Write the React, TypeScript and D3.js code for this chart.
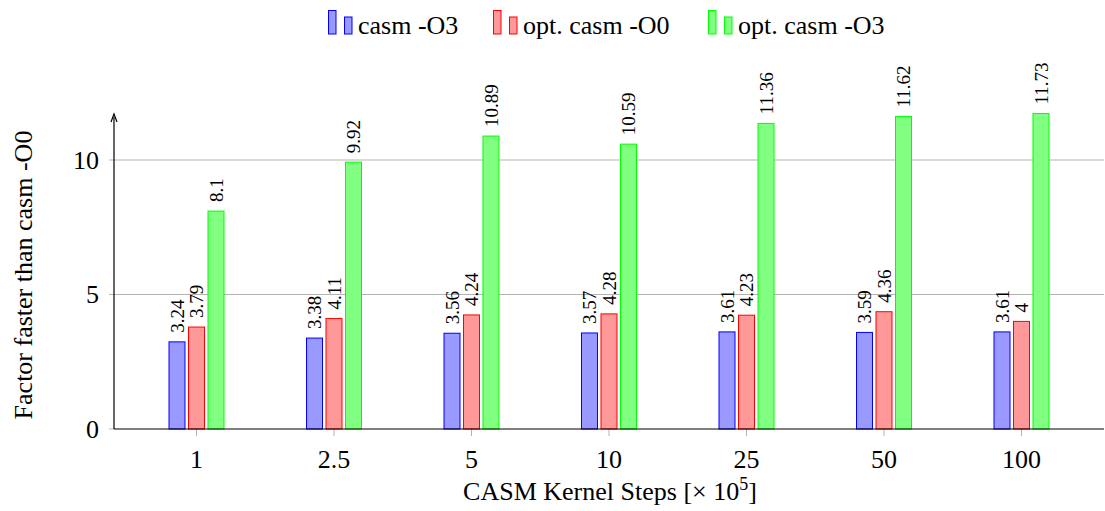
import { useEffect, useRef } from 'react';
import * as d3 from 'd3';

const categories = ['1', '2.5', '5', '10', '25', '50', '100'];
const seriesNames = ['casm -O3', 'opt. casm -O0', 'opt. casm -O3'];
const casmO3 = [3.24, 3.38, 3.56, 3.57, 3.61, 3.59, 3.61];
const optCasmO0 = [3.79, 4.11, 4.24, 4.28, 4.23, 4.36, 4];
const optCasmO3 = [8.1, 9.92, 10.89, 10.59, 11.36, 11.62, 11.73];
const yTicks = [0, 5, 10];

const fills = ['#9999ff', '#ff9999', '#80ff80'];
const strokes = ['#0000ff', '#ff0000', '#00ff00'];

export default function App() {
  const svgRef = useRef(null);

  useEffect(() => {
    if (!svgRef.current) return;
    const svg = d3.select(svgRef.current);
    svg.selectAll('*').remove();

    const font = '"Liberation Serif", "Times New Roman", serif';
    const left = 114;
    const right = 1104;
    const bottom = 429;

    const x = d3.scaleLinear().domain([-0.6, categories.length - 0.4]).range([left, right]);
    const y = d3.scaleLinear().domain([0, 10]).range([bottom, 160]);
    const series = [casmO3, optCasmO0, optCasmO3];
    const barW = 16;
    const offset = 19.5;

    // gridlines
    svg.append('g')
      .selectAll('line')
      .data(yTicks.filter(t => t > 0))
      .enter()
      .append('line')
      .attr('x1', left)
      .attr('x2', right)
      .attr('y1', d => y(d))
      .attr('y2', d => y(d))
      .attr('stroke', '#b3b3b3')
      .attr('stroke-width', 1);

    // y tick marks and labels
    yTicks.forEach(t => {
      svg.append('line')
        .attr('x1', left - 5).attr('x2', left)
        .attr('y1', y(t)).attr('y2', y(t))
        .attr('stroke', '#b3b3b3');
      svg.append('text')
        .attr('x', left - 15)
        .attr('y', y(t))
        .attr('dy', '0.33em')
        .attr('text-anchor', 'end')
        .style('font-family', font)
        .style('font-size', '26px')
        .text(t);
    });

    // x tick marks and labels
    categories.forEach((c, i) => {
      svg.append('line')
        .attr('x1', x(i)).attr('x2', x(i))
        .attr('y1', bottom).attr('y2', bottom + 7)
        .attr('stroke', '#b3b3b3');
      svg.append('text')
        .attr('x', x(i))
        .attr('y', 468)
        .attr('text-anchor', 'middle')
        .style('font-family', font)
        .style('font-size', '26px')
        .text(c);
    });

    // bars
    series.forEach((vals, s) => {
      const g = svg.append('g');
      g.selectAll('rect')
        .data(vals)
        .enter()
        .append('rect')
        .attr('x', (d, i) => x(i) + (s - 1) * offset - barW / 2)
        .attr('y', d => y(d))
        .attr('width', barW)
        .attr('height', d => bottom - y(d))
        .attr('fill', fills[s])
        .attr('stroke', strokes[s])
        .attr('stroke-width', 1);
      g.selectAll('text')
        .data(vals)
        .enter()
        .append('text')
        .attr('transform', (d, i) => `translate(${x(i) + (s - 1) * offset},${y(d) - 9}) rotate(-90)`)
        .attr('dy', '0.35em')
        .attr('text-anchor', 'start')
        .style('font-family', font)
        .style('font-size', '19px')
        .text(d => String(d));
    });

    // axes lines
    svg.append('line')
      .attr('x1', left).attr('x2', right)
      .attr('y1', bottom).attr('y2', bottom)
      .attr('stroke', '#000').attr('stroke-width', 1.2);
    svg.append('line')
      .attr('x1', left).attr('x2', left)
      .attr('y1', bottom).attr('y2', 117)
      .attr('stroke', '#000').attr('stroke-width', 1.2);
    svg.append('path')
      .attr('d', `M${left - 3},${122} L${left},${114} L${left + 3},${122}`)
      .attr('fill', 'none')
      .attr('stroke', '#000')
      .attr('stroke-width', 1.2);

    // axis titles
    const xt = svg.append('text')
      .attr('x', 610)
      .attr('y', 500)
      .attr('text-anchor', 'middle')
      .style('font-family', font)
      .style('font-size', '26px');
    xt.append('tspan').text('CASM Kernel Steps [× 10');
    xt.append('tspan').attr('dy', -10).style('font-size', '18px').text('5');
    xt.append('tspan').attr('dy', 10).text(']');

    svg.append('text')
      .attr('transform', `translate(32,275) rotate(-90)`)
      .attr('text-anchor', 'middle')
      .style('font-family', font)
      .style('font-size', '26px')
      .text('Factor faster than casm -O0');

    // legend
    const legendX = [328, 493, 708];
    seriesNames.forEach((name, s) => {
      const lg = svg.append('g').attr('transform', `translate(${legendX[s]},0)`);
      lg.append('rect')
        .attr('x', 0.5).attr('y', 10.5).attr('width', 7.5).attr('height', 23.5)
        .attr('fill', fills[s]).attr('stroke', strokes[s]);
      lg.append('rect')
        .attr('x', 16.5).attr('y', 17).attr('width', 7.5).attr('height', 17)
        .attr('fill', fills[s]).attr('stroke', strokes[s]);
      lg.append('text')
        .attr('x', 30)
        .attr('y', 34)
        .style('font-family', font)
        .style('font-size', '26px')
        .text(name);
    });
  }, []);

  return (
    <svg ref={svgRef} width={1105} height={511} style={{ position: 'absolute', left: 0, top: 0 }} />
  );
}
